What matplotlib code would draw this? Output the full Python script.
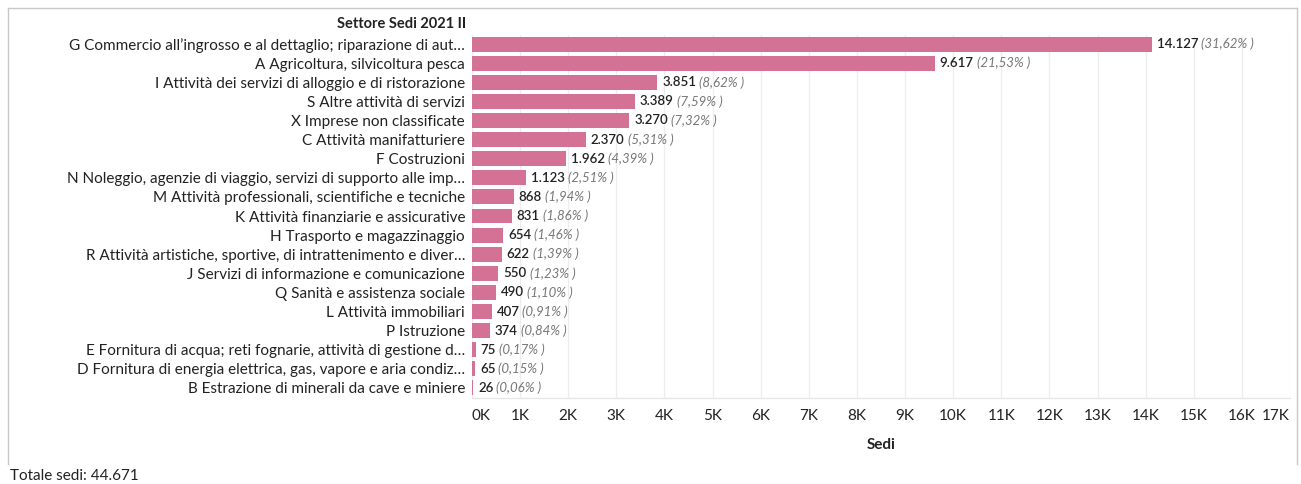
import numpy as np
import matplotlib.pyplot as plt
from matplotlib.lines import Line2D

# settori e numero di sedi
settori = [
    "G Commercio all\u2019ingrosso e al dettaglio; riparazione di aut\u2026",
    "A Agricoltura, silvicoltura pesca",
    "I Attività dei servizi di alloggio e di ristorazione",
    "S Altre attività di servizi",
    "X Imprese non classificate",
    "C Attività manifatturiere",
    "F Costruzioni",
    "N Noleggio, agenzie di viaggio, servizi di supporto alle imp\u2026",
    "M Attività professionali, scientifiche e tecniche",
    "K Attività finanziarie e assicurative",
    "H Trasporto e magazzinaggio",
    "R Attività artistiche, sportive, di intrattenimento e diver\u2026",
    "J Servizi di informazione e comunicazione",
    "Q Sanità e assistenza sociale",
    "L Attività immobiliari",
    "P Istruzione",
    "E Fornitura di acqua; reti fognarie, attività di gestione d\u2026",
    "D Fornitura di energia elettrica, gas, vapore e aria condiz\u2026",
    "B Estrazione di minerali da cave e miniere",
]
sedi = [14127, 9617, 3851, 3389, 3270, 2370, 1962, 1123, 868, 831,
        654, 622, 550, 490, 407, 374, 75, 65, 26]
tick_k = list(range(0, 18))

totale = sum(sedi)

def fmt_int(v):
    return "{:,}".format(v).replace(",", ".")

def fmt_pct(v):
    return "({:.2f}% )".format(v).replace(".", ",")

plt.rcParams['font.family'] = ['Lato', 'DejaVu Sans']

W, H = 1301, 484
fig = plt.figure(figsize=(W / 100, H / 100), dpi=100)

# area del grafico in pixel
x0, x1 = 472, 1290
y_top, y_bot = 34.5, 397.5
ax = fig.add_axes([x0 / W, 1 - y_bot / H, (x1 - x0) / W, (y_bot - y_top) / H])

y = np.arange(len(sedi))
ax.barh(y, sedi, height=0.78, color="#D37295", zorder=3)
ax.set_xlim(0, 17000)
ax.set_ylim(len(sedi) - 0.5, -0.5)

ax.set_yticks(y)
ax.set_yticklabels(settori, fontsize=11, color="#222222")
ax.set_xticks([k * 1000 for k in tick_k])
xl = ax.set_xticklabels(["{}K".format(k) for k in tick_k], fontsize=11, color="#222222")
# primo e ultimo tick dentro l'area
xl[0].set_ha("left")
xl[-1].set_ha("right")
ax.tick_params(axis="both", length=0)
ax.tick_params(axis="y", pad=5)
ax.tick_params(axis="x", pad=8)

ax.grid(axis="x", color="#ededed", linewidth=0.9, zorder=0)
for s in ["top", "right", "left"]:
    ax.spines[s].set_visible(False)
ax.spines["bottom"].set_color("#e6e6e6")
ax.spines["bottom"].set_linewidth(0.9)

ax.set_xlabel("Sedi", fontsize=11, fontweight="bold", color="#222222", labelpad=11)

# etichette: valore + percentuale
fig.canvas.draw()
renderer = fig.canvas.get_renderer()
for i, v in enumerate(sedi):
    t = ax.annotate(fmt_int(v), xy=(v, i), xytext=(3.5, 0), textcoords="offset points",
                    va="center", ha="left", fontsize=9.5, color="#222222",
                    fontweight="semibold")
    bb = t.get_window_extent(renderer)
    xd = ax.transData.inverted().transform((bb.x1 + 3, 0))[0]
    ax.text(xd, i, fmt_pct(100 * v / totale), va="center", ha="left",
            fontsize=9.5, color="#777777", style="italic")

fig.text((x0 - 6) / W, 1 - 24 / H, "Settore Sedi 2021 II", ha="right", va="center",
         fontsize=10.5, fontweight="bold", color="#222222")
fig.text(10 / W, 1 - 476 / H, "Totale sedi: " + fmt_int(totale), ha="left",
         va="center", fontsize=11, color="#222222")

# cornice
bc = "#c8c8c8"
fig.add_artist(Line2D([8 / W, 1297 / W], [1 - 8 / H, 1 - 8 / H], color=bc, lw=1))
fig.add_artist(Line2D([8 / W, 8 / W], [1 - 8 / H, 1 - 464 / H], color=bc, lw=1))
fig.add_artist(Line2D([1297 / W, 1297 / W], [1 - 8 / H, 1 - 464 / H], color=bc, lw=1))

fig.savefig("out.png", dpi=100)
